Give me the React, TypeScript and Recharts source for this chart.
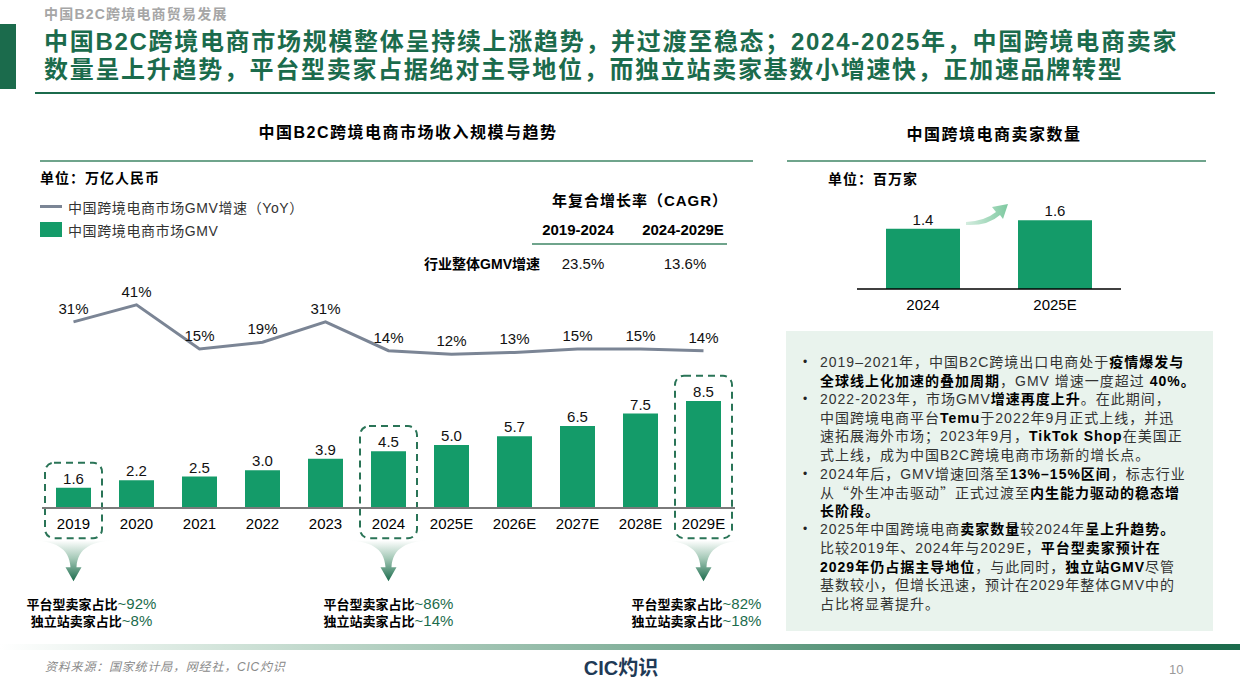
import React from 'react';
import { ComposedChart, BarChart, Bar, Line, XAxis, YAxis, LabelList, ReferenceArea, Legend } from 'recharts';

// ---------- data ----------
const years = ['2019', '2020', '2021', '2022', '2023', '2024', '2025E', '2026E', '2027E', '2028E', '2029E'];
const gmv = [1.6, 2.2, 2.5, 3.0, 3.9, 4.5, 5.0, 5.7, 6.5, 7.5, 8.5];
const yoy = [31, 41, 15, 19, 31, 14, 12, 13, 15, 15, 14];
const highlightYears = ['2019', '2024', '2029E'];
const platformShare = [92, 86, 82];
const independentShare = [8, 14, 18];
const sellerYears = ['2024', '2025E'];
const sellerCounts = [1.4, 1.6];
const cagrPeriods = ['2019-2024', '2024-2029E'];
const cagrValues = [23.5, 13.6];

const mainData = years.map((y, i) => ({ year: y, gmv: gmv[i], yoy: yoy[i] }));
const sellerData = sellerYears.map((y, i) => ({ year: y, count: sellerCounts[i] }));

// ---------- styles ----------
const FONT = '"Liberation Sans", Arial, "Noto Sans CJK SC", sans-serif';
const CJK = '"Noto Sans CJK SC", "Liberation Sans", sans-serif';
const DARK_GREEN = '#1b6b4c';
const BAR_GREEN = '#149b69';
const LINE_GRAY = '#7b8595';
const DIVIDER = '#6fa48c';
const annotationShift = [18, 0, -7];

type Seg = [string, boolean];
const panelLines: { segs: Seg[]; bullet?: boolean }[] = [
  { bullet: true, segs: [['2019–2021年，中国B2C跨境出口电商处于', false], ['疫情爆发与', true]] },
  { segs: [['全球线上化加速的叠加周期', true], ['，GMV 增速一度超过 ', false], ['40%。', true]] },
  { bullet: true, segs: [['2022-2023年，市场GMV', false], ['增速再度上升', true], ['。在此期间，', false]] },
  { segs: [['中国跨境电商平台', false], ['Temu', true], ['于2022年9月正式上线，并迅', false]] },
  { segs: [['速拓展海外市场；2023年9月，', false], ['TikTok Shop', true], ['在美国正', false]] },
  { segs: [['式上线，成为中国B2C跨境电商市场新的增长点。', false]] },
  { bullet: true, segs: [['2024年后，GMV增速回落至', false], ['13%–15%区间', true], ['，标志行业', false]] },
  { segs: [['从“外生冲击驱动”正式过渡至', false], ['内生能力驱动的稳态增', true]] },
  { segs: [['长阶段。', true]] },
  { bullet: true, segs: [['2025年中国跨境电商', false], ['卖家数量', true], ['较2024年', false], ['呈上升趋势。', true]] },
  { segs: [['比较2019年、2024年与2029E，', false], ['平台型卖家预计在', true]] },
  { segs: [['2029年仍占据主导地位', true], ['，与此同时，', false], ['独立站GMV', true], ['尽管', false]] },
  { segs: [['基数较小，但增长迅速，预计在2029年整体GMV中的', false]] },
  { segs: [['占比将显著提升。', false]] },
];

function renderSeg(text: string) {
  const parts = text.split(/([“”])/);
  return parts.map((p, i) =>
    p === '“' || p === '”' ? (
      <span key={i} style={{ fontFamily: CJK }}>{p}</span>
    ) : (
      <React.Fragment key={i}>{p}</React.Fragment>
    )
  );
}

function HighlightShape(props: any) {
  const { x, y, width, height, idx } = props;
  if (x == null || y == null) return null;
  const inset = 3;
  const cx = x + width / 2;
  const bottom = y + height;
  const y0 = bottom + 2;
  const gid = `funnelGrad${idx}`;
  const tx = cx + annotationShift[idx];
  const d = `M ${cx - 46} ${y0} C ${cx - 18} ${y0} ${cx - 4} ${y0 + 8} ${cx - 3} ${y0 + 27} L ${cx - 8} ${y0 + 27} L ${cx} ${y0 + 41} L ${cx + 8} ${y0 + 27} L ${cx + 3} ${y0 + 27} C ${cx + 4} ${y0 + 8} ${cx + 18} ${y0} ${cx + 46} ${y0} Z`;
  return (
    <g>
      <defs>
        <linearGradient id={gid} x1="0" y1="0" x2="0" y2="1">
          <stop offset="0%" stopColor="#ffffff" />
          <stop offset="45%" stopColor="#a3c8b6" />
          <stop offset="100%" stopColor="#1b6b4c" />
        </linearGradient>
      </defs>
      <rect x={x + inset} y={y} width={width - 2 * inset} height={height} rx={9} ry={9} fill="none" stroke="#2a7457" strokeWidth={2} strokeDasharray="7 5" />
      <path d={d} fill={`url(#${gid})`} />
      <text x={tx} y={y0 + 69} textAnchor="middle">
        <tspan fontFamily={CJK} fontWeight={700} fontSize={13} fill="#000">平台型卖家占比</tspan>
        <tspan fontFamily={FONT} fontSize={15} fill={DARK_GREEN}>{`~${platformShare[idx]}%`}</tspan>
      </text>
      <text x={tx} y={y0 + 86} textAnchor="middle">
        <tspan fontFamily={CJK} fontWeight={700} fontSize={13} fill="#000">独立站卖家占比</tspan>
        <tspan fontFamily={FONT} fontSize={15} fill={DARK_GREEN}>{`~${independentShare[idx]}%`}</tspan>
      </text>
    </g>
  );
}

function LegendContent(props: any) {
  const payload = [...(props.payload || [])].sort(
    (a: any, b: any) => (a.type === 'line' ? 0 : 1) - (b.type === 'line' ? 0 : 1)
  );
  return (
    <div style={{ fontFamily: FONT }}>
      {payload.map((e: any, i: number) => (
        <div key={i} style={{ display: 'flex', alignItems: 'center', height: 23, whiteSpace: 'nowrap' }}>
          {e.type === 'line' ? (
            <span style={{ display: 'inline-block', width: 22, height: 3, background: e.color }} />
          ) : (
            <span style={{ display: 'inline-block', width: 22, height: 15, background: e.color }} />
          )}
          <span style={{ marginLeft: 6, fontSize: 14, color: '#333', letterSpacing: 0.6 }}>{e.value}</span>
        </div>
      ))}
    </div>
  );
}

const abs = (left: number, top: number, extra: React.CSSProperties = {}): React.CSSProperties => ({
  position: 'absolute',
  left,
  top,
  whiteSpace: 'nowrap',
  ...extra,
});

const centered = (cx: number, cy: number, lh: number, extra: React.CSSProperties = {}): React.CSSProperties => ({
  position: 'absolute',
  left: cx - 200,
  width: 400,
  top: cy - lh / 2,
  lineHeight: `${lh}px`,
  textAlign: 'center',
  whiteSpace: 'nowrap',
  ...extra,
});

export default function App() {
  return (
    <div style={{ position: 'absolute', left: 0, top: 0, width: 1240, height: 697, background: '#fff', overflow: 'hidden', fontFamily: FONT }}>
      {/* header */}
      <div style={abs(0, 24, { width: 16, height: 65, background: DARK_GREEN })} />
      <div style={abs(44, 4, { lineHeight: '20px', fontSize: 14, fontWeight: 700, color: '#a6a6a6', letterSpacing: 1.2 })}>
        中国B2C跨境电商贸易发展
      </div>
      <div style={abs(44, 28, { fontSize: 24, fontWeight: 700, color: DARK_GREEN, letterSpacing: 1.7, lineHeight: '28px' })}>
        <div>中国B2C跨境电商市场规模整体呈持续上涨趋势，并过渡至稳态；2024-2025年，中国跨境电商卖家</div>
        <div>数量呈上升趋势，平台型卖家占据绝对主导地位，而独立站卖家基数小增速快，正加速品牌转型</div>
      </div>
      <div style={abs(35, 92, { width: 1180, height: 2, background: DARK_GREEN })} />

      {/* left panel headings */}
      <div style={centered(408, 133, 22, { fontSize: 16, fontWeight: 700, letterSpacing: 1.5, color: '#000' })}>
        中国B2C跨境电商市场收入规模与趋势
      </div>
      <div style={abs(40, 160, { width: 713, height: 2, background: DIVIDER })} />
      <div style={abs(40, 169, { lineHeight: '18px', fontSize: 14, fontWeight: 700, letterSpacing: 1, color: '#000' })}>
        单位：万亿人民币
      </div>

      {/* CAGR table */}
      <div style={centered(640, 201, 20, { fontSize: 15, fontWeight: 700, letterSpacing: 1, color: '#000' })}>
        年复合增长率（CAGR）
      </div>
      {cagrPeriods.map((p, i) => (
        <div key={p} style={centered(i === 0 ? 578 : 683, 230, 20, { fontSize: 15, fontWeight: 700, color: '#000' })}>
          {p}
        </div>
      ))}
      <div style={abs(532, 243, { width: 195, height: 2, background: DIVIDER })} />
      <div style={abs(340, 254, { width: 200, textAlign: 'right', lineHeight: '20px', fontSize: 14, fontWeight: 700, color: '#000' })}>
        行业整体GMV增速
      </div>
      {cagrValues.map((v, i) => (
        <div key={i} style={centered(i === 0 ? 583 : 685, 264, 20, { fontSize: 15, color: '#111' })}>
          {`${v.toFixed(1)}%`}
        </div>
      ))}

      {/* main chart */}
      <div style={abs(10, 170)}>
        <ComposedChart width={760} height={488} data={mainData} margin={{ top: 110, right: 35, bottom: 120, left: 32 }}>
          <XAxis
            dataKey="year"
            interval={0}
            height={30}
            tickLine={false}
            tickMargin={4}
            axisLine={{ stroke: '#7a7a7a', strokeWidth: 2 }}
            tick={{ fontSize: 15, fill: '#000', fontFamily: FONT }}
          />
          <YAxis yAxisId="bar" hide domain={[0, 18.1]} />
          <YAxis yAxisId="line" hide domain={[-78.5, 55.6]} />
          <Legend
            layout="vertical"
            align="center"
            verticalAlign="middle"
            wrapperStyle={{ left: 30, top: 25, width: 320, height: 50 }}
            content={(p: any) => <LegendContent {...p} />}
          />
          <Bar yAxisId="bar" dataKey="gmv" name="中国跨境电商市场GMV" fill={BAR_GREEN} barSize={35} isAnimationActive={false}>
            <LabelList
              dataKey="gmv"
              position="top"
              offset={4}
              fill="#111"
              fontSize={15}
              fontFamily={FONT}
              formatter={(v: any) => Number(v).toFixed(1)}
            />
          </Bar>
          <Line
            yAxisId="line"
            type="linear"
            dataKey="yoy"
            name="中国跨境电商市场GMV增速（YoY）"
            stroke={LINE_GRAY}
            strokeWidth={3}
            dot={false}
            activeDot={false}
            isAnimationActive={false}
          >
            <LabelList
              dataKey="yoy"
              position="top"
              offset={8}
              fill="#111"
              fontSize={15}
              fontFamily={FONT}
              formatter={(v: any) => `${v}%`}
            />
          </Line>
          {highlightYears.map((yr, i) => (
            <ReferenceArea
              key={yr}
              yAxisId="bar"
              x1={yr}
              x2={yr}
              y1={-2.4}
              y2={gmv[years.indexOf(yr)] + 2}
              ifOverflow="visible"
              shape={(p: any) => <HighlightShape {...p} idx={i} />}
            />
          ))}
        </ComposedChart>
      </div>

      {/* right panel */}
      <div style={centered(994, 135, 22, { fontSize: 16, fontWeight: 700, letterSpacing: 1.5, color: '#000' })}>
        中国跨境电商卖家数量
      </div>
      <div style={abs(787, 160, { width: 419, height: 2, background: DIVIDER })} />
      <div style={abs(828, 170, { lineHeight: '18px', fontSize: 14, fontWeight: 700, letterSpacing: 1, color: '#000' })}>
        单位：百万家
      </div>
      <div style={abs(845, 180)}>
        <BarChart width={288} height={144} data={sellerData} margin={{ top: 10, right: 12, bottom: 5, left: 12 }}>
          <XAxis
            dataKey="year"
            height={30}
            tickLine={false}
            tickMargin={4}
            axisLine={{ stroke: '#000', strokeWidth: 1.5 }}
            tick={{ fontSize: 15, fill: '#000', fontFamily: FONT }}
          />
          <YAxis hide domain={[0, 2.3]} />
          <Bar dataKey="count" fill={BAR_GREEN} barSize={74} isAnimationActive={false}>
            <LabelList
              dataKey="count"
              position="top"
              offset={4}
              fill="#111"
              fontSize={15}
              fontFamily={FONT}
              formatter={(v: any) => Number(v).toFixed(1)}
            />
          </Bar>
        </BarChart>
      </div>
      <svg style={{ position: 'absolute', left: 0, top: 0, pointerEvents: 'none' }} width={1240} height={697}>
        <defs>
          <linearGradient id="curveArrow" x1="0" y1="0" x2="1" y2="0">
            <stop offset="0%" stopColor="#d4ecdf" />
            <stop offset="100%" stopColor="#7ec9a0" />
          </linearGradient>
        </defs>
        <path
          d="M 966 222 Q 985 221 996 212 L 992 207 L 1008 204 L 1003 219 L 1000 215 Q 988 226 966 225 Z"
          fill="url(#curveArrow)"
        />
      </svg>

      {/* text panel */}
      <div style={abs(786, 331, { width: 427, height: 300, background: '#e9f3ed' })}>
        <div style={{ paddingTop: 22 }}>
          {panelLines.map((ln, i) => (
            <div
              key={i}
              style={{
                position: 'relative',
                paddingLeft: 34,
                height: 18.6,
                lineHeight: '18.6px',
                fontSize: 14,
                letterSpacing: 1,
                whiteSpace: 'nowrap',
                color: '#333',
              }}
            >
              {ln.bullet && <span style={{ position: 'absolute', left: 17, fontSize: 12, color: '#222' }}>•</span>}
              {ln.segs.map(([t, b], j) => (
                <span key={j} style={b ? { fontWeight: 700, color: '#000' } : undefined}>
                  {renderSeg(t)}
                </span>
              ))}
            </div>
          ))}
        </div>
      </div>

      {/* footer */}
      <div
        style={abs(0, 644, {
          width: 1240,
          height: 6,
          background: 'linear-gradient(to right, #ffffff 0%, #d2e4da 18%, #a9c9b9 35%, #6fa48c 60%, #2f7a5a 82%, #1b6b4c 100%)',
        })}
      />
      <div style={abs(45, 658, { lineHeight: '18px', fontSize: 12, fontStyle: 'italic', color: '#8a8a8a', letterSpacing: 0.8 })}>
        资料来源：国家统计局，网经社，CIC灼识
      </div>
      <div style={centered(621, 668, 24, { fontSize: 20, fontWeight: 700, color: '#1f3a56' })}>CIC灼识</div>
      <div style={abs(1169, 661, { lineHeight: '18px', fontSize: 13, color: '#9a9a9a' })}>10</div>
    </div>
  );
}
